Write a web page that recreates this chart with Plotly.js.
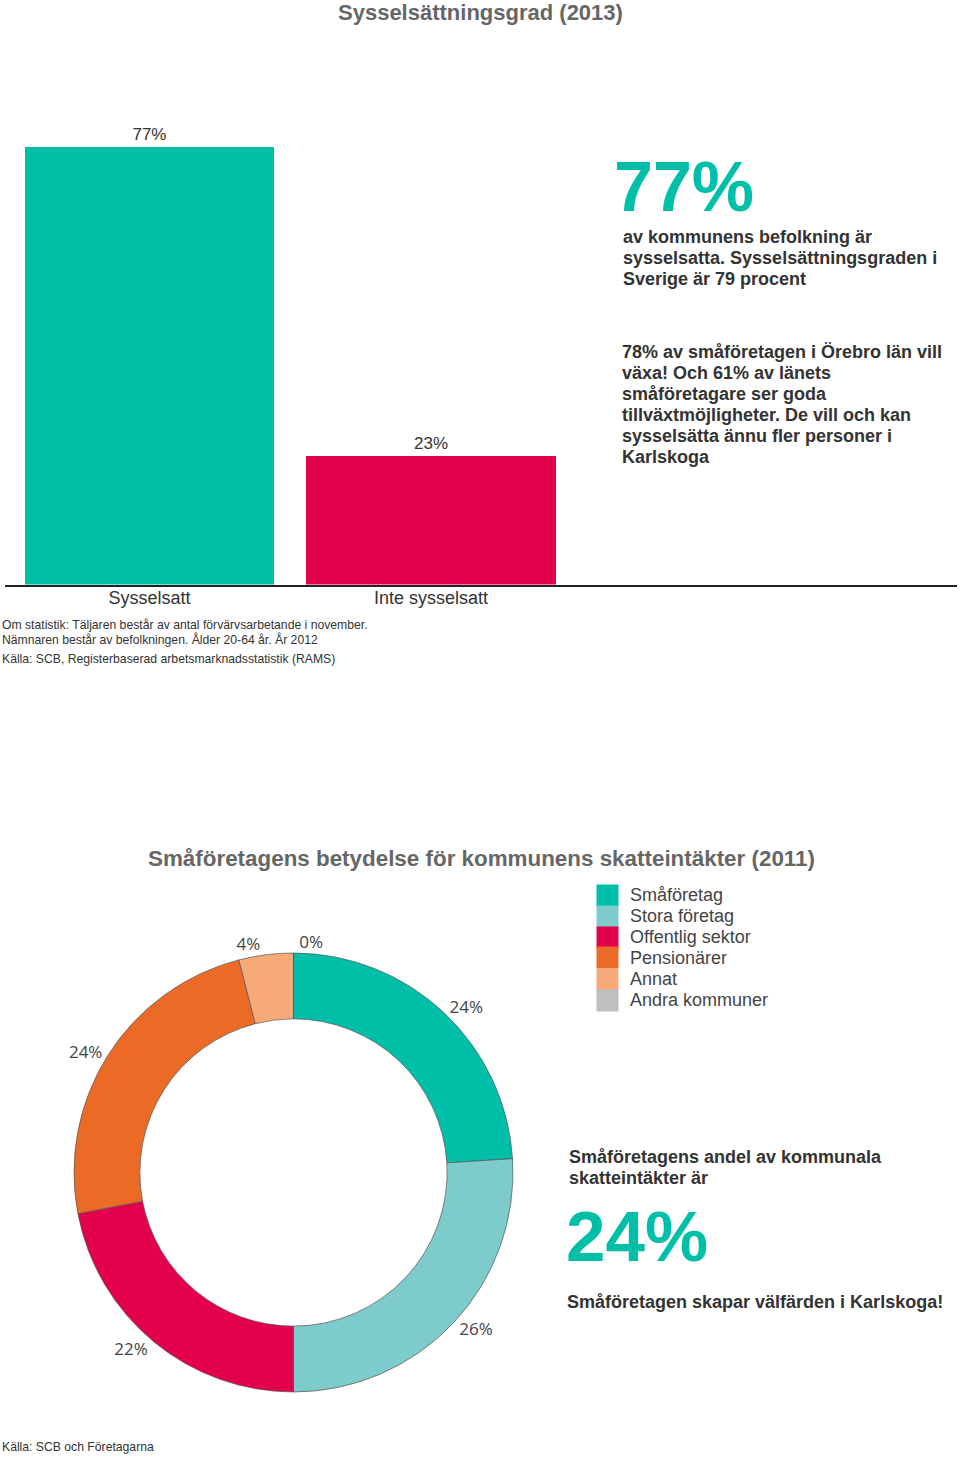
<!DOCTYPE html>
<html>
<head>
<meta charset="utf-8">
<script src="https://cdn.plot.ly/plotly-3.0.1.min.js"></script>
<style>
  html, body { margin: 0; padding: 0; background: #fff; }
  #chart { width: 960px; height: 1457px; }
</style>
</head>
<body>
<div id="chart"></div>
<script>
// ---- Data ----
const barTitle = 'Sysselsättningsgrad (2013)';
const barCategories = ['Sysselsatt', 'Inte sysselsatt'];
const barValues = [77.3, 22.7];
const barColors = ['#00BFA9', '#E3004F'];

const pieTitle = 'Småföretagens betydelse för kommunens skatteintäkter (2011)';
const pieLabels = ['Småföretag', 'Stora företag', 'Offentlig sektor', 'Pensionärer', 'Annat', 'Andra kommuner'];
const pieValues = [24, 26, 22, 24, 4, 0];
const pieColors = ['#00BFA9', '#7ECBCB', '#E3004F', '#EB6B26', '#F5AA78', '#BFBFBF'];

const bigNumber1 = '77%';
const textBlock1 = ['av kommunens befolkning är', 'sysselsatta. Sysselsättningsgraden i', 'Sverige är 79 procent'];
const textBlock2 = ['78% av småföretagen i Örebro län vill', 'växa! Och 61% av länets', 'småföretagare ser goda',
  'tillväxtmöjligheter. De vill och kan', 'sysselsätta ännu fler personer i', 'Karlskoga'];
const note1 = ['Om statistik: Täljaren består av antal förvärvsarbetande i november.', 'Nämnaren består av befolkningen. Ålder 20-64 år. År 2012'];
const source1 = 'Källa: SCB, Registerbaserad arbetsmarknadsstatistik (RAMS)';
const textBlock3 = ['Småföretagens andel av kommunala', 'skatteintäkter är'];
const bigNumber2 = '24%';
const textBlock4 = 'Småföretagen skapar välfärden i Karlskoga!';
const source2 = 'Källa: SCB och Företagarna';

// ---- Helpers ----
const W = 960, H = 1457;
const px = x => x / W;
const py = y => 1 - y / H;
const FONT = 'Liberation Sans, Arial, sans-serif';
const ann = [];
function addText(text, x, y, opts) {
  ann.push(Object.assign({
    text: text, x: px(x), y: py(y), xref: 'paper', yref: 'paper',
    xanchor: 'left', yanchor: 'middle', showarrow: false,
    font: { family: FONT, size: 18, color: '#333' }
  }, opts || {}));
}
function addLines(lines, x, y0, step, font) {
  lines.forEach((t, i) => addText(t, x, y0 + i * step, { font: font }));
}

// Titles
addText(barTitle, 480, 13, { xanchor: 'center', font: { family: FONT, size: 22, color: '#666', weight: 'bold' } });
addText(pieTitle, 481, 858, { xanchor: 'center', font: { family: FONT, size: 22.4, color: '#666', weight: 'bold' } });

// Right text, top
const boldFont = { family: FONT, size: 18, color: '#333', weight: 'bold' };
addText(bigNumber1, 612, 187, { font: { family: FONT, size: 70, color: '#00BFA9', weight: 'bold' } });
addLines(textBlock1, 621, 237, 21, boldFont);
addLines(textBlock2, 620, 352, 21, boldFont);

// Notes under bar chart
const smallFont = { family: FONT, size: 12.2, color: '#333' };
addLines(note1, 0, 625, 14, smallFont);
addText(source1, 0, 659, { font: smallFont });

// Legend (built from the pie arrays)
pieLabels.forEach((lab, i) => {
  const yc = 895 + i * 21;
  ann.push({
    text: ' ', x: px(596), y: py(yc), xref: 'paper', yref: 'paper',
    xanchor: 'left', yanchor: 'middle', showarrow: false,
    width: 21, height: 21, borderpad: 0, bgcolor: pieColors[i],
    font: { size: 2 }
  });
  addText(lab, 628, yc, { font: { family: FONT, size: 18, color: '#444' } });
});

// Right text, bottom
addLines(textBlock3, 567, 1157, 21, boldFont);
addText(bigNumber2, 564, 1236, { font: { family: FONT, size: 71, color: '#00BFA9', weight: 'bold' } });
addText(textBlock4, 565, 1302, { font: boldFont });
addText(source2, 0, 1447, { font: smallFont });

// ---- Traces ----
const barTrace = {
  type: 'bar',
  x: barCategories,
  y: barValues,
  width: 0.885,
  marker: { color: barColors, line: { width: 0 } },
  texttemplate: '%{y:.0f}%',
  textposition: 'outside',
  outsidetextfont: { family: FONT, size: 17, color: '#333' },
  cliponaxis: false,
  hoverinfo: 'none',
  xaxis: 'x', yaxis: 'y'
};

const pieTrace = {
  type: 'pie',
  labels: pieLabels,
  values: pieValues,
  sort: false,
  direction: 'clockwise',
  rotation: 0,
  hole: 0.7,
  marker: { colors: pieColors, line: { color: '#555', width: 0.7 } },
  texttemplate: '%{percent:.0%}',
  textposition: 'outside',
  outsidetextfont: { family: 'Open Sans, sans-serif', size: 17, color: '#444' },
  showlegend: false,
  hoverinfo: 'none',
  domain: { x: [px(74), px(513)], y: [py(1392), py(953)] }
};

const layout = {
  width: W, height: H,
  margin: { l: 0, r: 0, t: 0, b: 0 },
  paper_bgcolor: '#fff', plot_bgcolor: 'rgba(0,0,0,0)',
  font: { family: FONT, color: '#333' },
  showlegend: false,
  bargap: 0,
  xaxis: {
    domain: [px(5), px(957)],
    type: 'category',
    range: [-0.513, 2.868],
    showline: true, linecolor: '#222', linewidth: 2,
    ticks: '', showgrid: false, zeroline: false,
    ticklabelstandoff: -4,
    tickfont: { family: FONT, size: 18, color: '#333' },
    fixedrange: true
  },
  yaxis: {
    domain: [py(584.5), py(18.1)],
    range: [0, 100],
    visible: false, showgrid: false, zeroline: false,
    fixedrange: true
  },
  annotations: ann
};

Plotly.newPlot('chart', [barTrace, pieTrace], layout, { displayModeBar: false, staticPlot: true });
</script>
</body>
</html>
